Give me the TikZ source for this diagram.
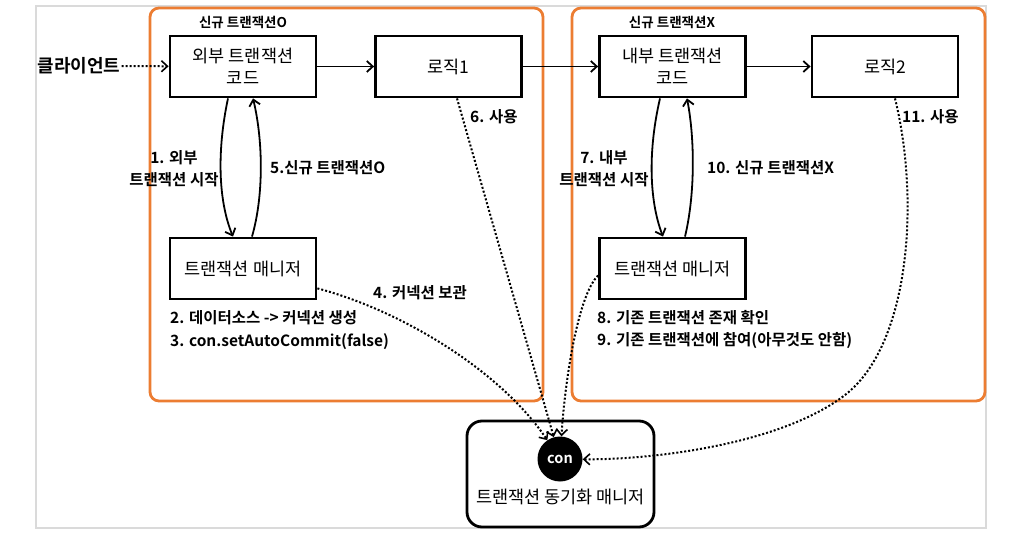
\documentclass[tikz,border=0pt]{standalone}
\usepackage{fontspec}
\setmainfont{Noto Sans CJK KR}[BoldFont={Noto Sans CJK KR Bold}]
\usetikzlibrary{arrows.meta}
\definecolor{frameorange}{RGB}{236,125,50}
\definecolor{framegray}{RGB}{218,218,218}
\begin{document}
\begin{tikzpicture}[x=1pt,y=-1pt,
  box/.style={draw=black,line width=2.8pt,minimum width=146pt,minimum height=61pt,inner sep=0pt,align=center,font=\fontsize{17.5}{22}\selectfont},
  lab/.style={font=\fontsize{15.5}{22.5}\selectfont\bfseries,inner sep=0pt},
  hdr/.style={font=\fontsize{13.5}{14}\selectfont\bfseries,inner sep=0pt},
  arr/.style={-{Straight Barb[length=6pt,width=11pt,line width=1.8pt]},line width=1.8pt},
  dotarr/.style={dotted,line width=2pt,-{Straight Barb[length=6pt,width=11pt,line width=1.6pt]}},
  region/.style={draw=frameorange,line width=2.8pt,rounded corners=9pt}]
\useasboundingbox (0,0) rectangle (1026,540);
\draw[framegray,line width=1.2pt] (36,6) rectangle (986,528);
\draw[region] (150,8) rectangle (543,401);
\draw[region] (572,8) rectangle (985,401);
% headers
\node[hdr] (h1) at (243,22) {신규 트랜잭션O};
\node[hdr] (h2) at (672,22) {신규 트랜잭션X};
% boxes
\node[box] (outer) at (243,66.5) {외부 트랜잭션\\코드};
\node[box] (logic1) at (448.5,66.5) {로직1};
\node[box] (inner) at (672.5,66.5) {내부 트랜잭션\\코드};
\node[box] (logic2) at (885,66.5) {로직2};
\node[box] (tm1) at (243,268.5) {트랜잭션 매니저};
\node[box] (tm2) at (672.5,268.5) {트랜잭션 매니저};
\node[draw=black,line width=2.8pt,rounded corners=15pt,minimum width=187pt,minimum height=106pt,inner sep=0pt] (sync) at (560.5,474) {};
\node[font=\fontsize{17.5}{18}\selectfont,inner sep=0pt] (synctext) at (560.5,497) {트랜잭션 동기화 매니저};
\node[circle,fill=black,minimum size=45pt,inner sep=0pt,text=white,font=\fontsize{14.5}{15}\selectfont\bfseries] (con) at (560,459) {con};
% client
\node[font=\fontsize{18}{18}\selectfont\bfseries,inner sep=1pt] (client) at (79,66) {클라이언트};
% labels
\node[lab,align=center] (l1) at (174,168.5) {1. 외부\\트랜잭션 시작};
\node[lab,anchor=west] (l5) at (270,168) {5.신규 트랜잭션O};
\node[lab,anchor=west] (l6) at (470,117) {6. 사용};
\node[lab,anchor=west] (l4) at (373,293) {4. 커넥션 보관};
\node[lab,anchor=west,align=left] (l23) at (170,330) {2. 데이터소스 -> 커넥션 생성\\3. con.setAutoCommit(false)};
\node[lab,align=center] (l7) at (604,168.5) {7. 내부\\트랜잭션 시작};
\node[lab,anchor=west] (l10) at (707,168) {10. 신규 트랜잭션X};
\node[lab,anchor=west] (l11) at (902,117) {11. 사용};
\node[lab,anchor=west,align=left] (l89) at (597,329.5) {8. 기존 트랜잭션 존재 확인\\9. 기존 트랜잭션에 참여(아무것도 안함)};
% solid arrows
\draw[arr] (outer) -- (logic1);
\draw[arr] (logic1) -- (inner);
\draw[arr] (inner) -- (logic2);
\draw[arr] ([xshift=-15pt]outer.south) .. controls (217,150) and (218,200) .. ([xshift=-10pt]tm1.north);
\draw[arr] ([xshift=9pt]tm1.north) .. controls (264,195) and (263,140) .. ([xshift=10pt]outer.south);
\draw[arr] ([xshift=-12.5pt]inner.south) .. controls (648,150) and (649,200) .. ([xshift=-9.5pt]tm2.north);
\draw[arr] ([xshift=12.5pt]tm2.north) .. controls (695,195) and (695,140) .. ([xshift=14.5pt]inner.south);
% dotted arrows
\draw[dotarr] (client) -- (outer);
\draw[dotarr] ([yshift=12pt]tm1.south east) .. controls (400,310) and (500,370) .. (con);
\draw[dotarr] ([xshift=8.5pt]logic1.south) -- (con);
\draw[dotarr] ([yshift=-7pt]tm2.west) .. controls (578,295) and (565,380) .. (con);
\coordinate (m2) at (845,395);
\draw[dotarr] ([xshift=10pt]logic2.south) .. controls (920,200) and (910,345) .. (m2) .. controls (780,445) and (650,460) .. (con);
\end{tikzpicture}
\end{document}
